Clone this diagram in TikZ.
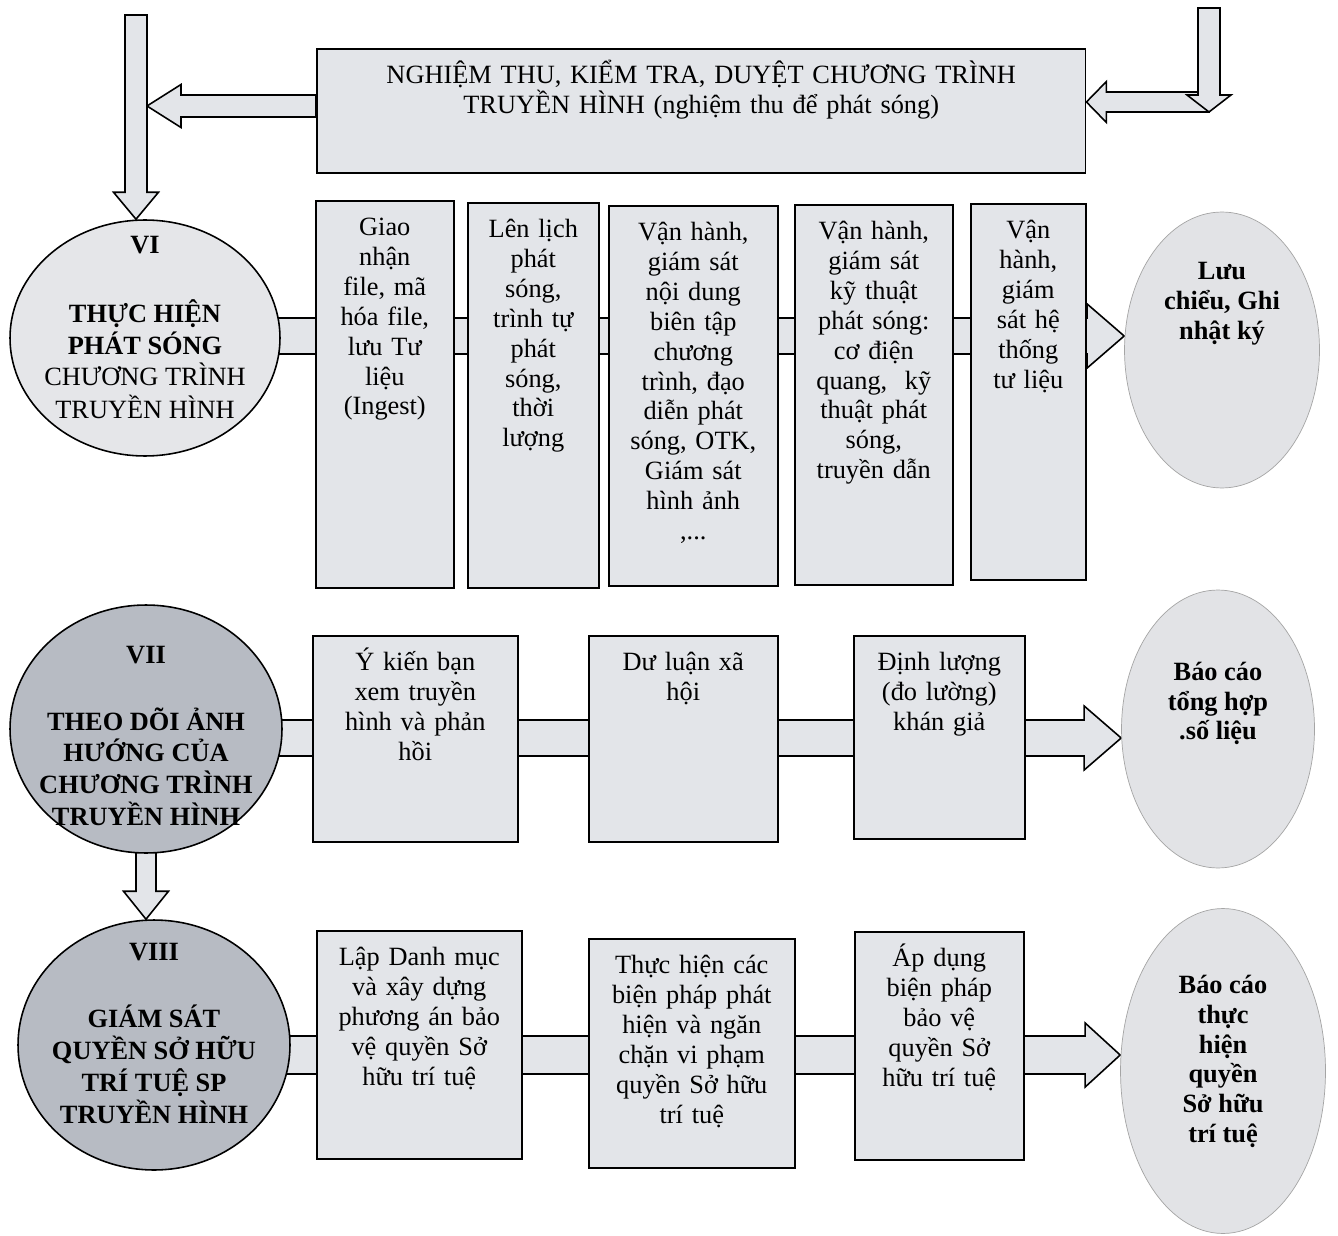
\documentclass[tikz,border=0pt]{standalone}
\usepackage{fontspec}
\setmainfont{Liberation Serif}
\usetikzlibrary{shapes.geometric, calc, backgrounds}

\definecolor{boxfill}{RGB}{227,229,233}
\definecolor{lightfill}{RGB}{229,230,233}
\definecolor{darkfill}{RGB}{183,187,195}
\definecolor{repfill}{RGB}{226,227,230}
\definecolor{repline}{RGB}{165,165,165}

\newcommand{\dfont}{\fontsize{15}{17}\selectfont}
% text block inside an ellipse, lifted by #1
\newcommand{\inell}[2]{\makebox[0pt]{\raisebox{#1}[0pt][0pt]{\begin{tabular}{@{}c@{}}#2\end{tabular}}}}

\begin{document}
\begin{tikzpicture}[x=0.02cm, y=-0.02cm, font=\dfont,
    proc/.style={draw, fill=boxfill, line width=0.9pt, anchor=north west,
      align=center, inner xsep=0.05cm, inner ysep=0pt, text height=0.70cm},
    stage/.style={ellipse, draw, line width=0.9pt, inner sep=0pt},
    report/.style={ellipse, draw=repline, fill=repfill, inner sep=0pt, font=\dfont\bfseries},
    band/.style={draw, fill=boxfill, line width=0.9pt},
    harrow/.style n args={3}{to path={
      ($(\tikztostart)+(0,-#2)$) -- ($(\tikztotarget)+({0-(#1)},-#2)$)
      -- ($(\tikztotarget)+({0-(#1)},-#3)$) -- (\tikztotarget)
      -- ($(\tikztotarget)+({0-(#1)},#3)$) -- ($(\tikztotarget)+({0-(#1)},#2)$)
      -- ($(\tikztostart)+(0,#2)$) -- cycle}},
    varrow/.style n args={3}{to path={
      ($(\tikztostart)+(-#2,0)$) -- ($(\tikztotarget)+(-#2,{0-(#1)})$)
      -- ($(\tikztotarget)+(-#3,{0-(#1)})$) -- (\tikztotarget)
      -- ($(\tikztotarget)+(#3,{0-(#1)})$) -- ($(\tikztotarget)+(#2,{0-(#1)})$)
      -- ($(\tikztostart)+(#2,0)$) -- cycle}}]

  \useasboundingbox (0,0) rectangle (1338,1236);

  % Top box
  \node[proc, text width=15.28cm, text depth=1.78cm] (check) at (316,48)
    {NGHIỆM THU, KIỂM TRA, DUYỆT CHƯƠNG TRÌNH\\TRUYỀN HÌNH (nghiệm thu để phát sóng)};

  % Row VI
  \node[stage, fill=lightfill, minimum width=5.4cm, minimum height=4.72cm] (stage6) at (145,338)
    {\inell{1.1pt}{\textbf{VI}\\[21.5pt]\textbf{THỰC HIỆN}\\\textbf{PHÁT SÓNG}\\CHƯƠNG TRÌNH\\TRUYỀN HÌNH}};
  \node[proc, text width=2.66cm, text depth=7.04cm] (ingest) at (315,200)
    {Giao\\nhận\\file, mã\\hóa file,\\lưu Tư\\liệu\\(Ingest)};
  \node[proc, text width=2.52cm, text depth=7.00cm] (sched) at (467,202)
    {Lên lịch\\phát\\sóng,\\trình tự\\phát\\sóng,\\thời\\lượng};
  \node[proc, text width=3.28cm, text depth=6.90cm] (content) at (608,205)
    {Vận hành,\\giám sát\\nội dung\\biên tập\\chương\\trình, đạo\\diễn phát\\sóng, OTK,\\Giám sát\\hình ảnh\\,...};
  \node[proc, text width=3.06cm, text depth=6.90cm] (tech) at (794,204)
    {Vận hành,\\giám sát\\kỹ thuật\\phát sóng:\\cơ điện\\quang,~ kỹ\\thuật phát\\sóng,\\truyền dẫn};
  \node[proc, text width=2.20cm, text depth=6.82cm] (archive) at (970,203)
    {Vận\\hành,\\giám\\sát hệ\\thống\\tư liệu};
  \node[report, minimum width=3.9cm, minimum height=5.52cm] (logbook) at (1222,350)
    {\inell{23pt}{Lưu\\chiểu, Ghi\\nhật ký}};

  % Row VII
  \node[stage, fill=darkfill, font=\dfont\bfseries, minimum width=5.44cm, minimum height=4.96cm] (stage7) at (146,729)
    {\inell{-9.1pt}{VII\\[20pt]THEO DÕI ẢNH\\HƯỚNG CỦA\\CHƯƠNG TRÌNH\\TRUYỀN HÌNH}};
  \node[proc, text width=4.00cm, text depth=3.42cm] (opinion) at (312,635)
    {Ý kiến bạn\\xem truyền\\hình và phản\\hồi};
  \node[proc, text width=3.68cm, text depth=3.42cm] (public) at (588,635)
    {Dư luận xã\\hội};
  \node[proc, text width=3.32cm, text depth=3.36cm] (rating) at (853,635)
    {Định lượng\\(đo lường)\\khán giả};
  \node[report, minimum width=3.86cm, minimum height=5.56cm] (summary) at (1218,729)
    {\inell{10.6pt}{Báo cáo\\tổng hợp\\.số liệu}};

  % Row VIII
  \node[stage, fill=darkfill, font=\dfont\bfseries, minimum width=5.44cm, minimum height=5.0cm] (stage8) at (154,1045)
    {\inell{1.4pt}{VIII\\[20pt]GIÁM SÁT\\QUYỀN SỞ HỮU\\TRÍ TUỆ SP\\TRUYỀN HÌNH}};
  \node[proc, text width=4.00cm, text depth=3.86cm] (catalog) at (316,930)
    {Lập Danh mục\\và xây dựng\\phương án bảo\\vệ quyền Sở\\hữu trí tuệ};
  \node[proc, text width=4.02cm, text depth=3.88cm] (prevent) at (588,938)
    {Thực hiện các\\biện pháp phát\\hiện và ngăn\\chặn vi phạm\\quyền Sở hữu\\trí tuệ};
  \node[proc, text width=3.28cm, text depth=3.86cm] (protect) at (854,931)
    {Áp dụng\\biện pháp\\bảo vệ\\quyền Sở\\hữu trí tuệ};
  \node[report, minimum width=4.1cm, minimum height=6.5cm] (ipreport) at (1223,1071)
    {\inell{1.5pt}{Báo cáo\\thực\\hiện\\quyền\\Sở hữu\\trí tuệ}};

  % Arrow ends
  \coordinate (feed1) at (136,15);
  \coordinate (join1) at (147,106);
  \coordinate (feed2) at (1209,8);
  \coordinate (join2) at (1209,112);
  \coordinate (tip1) at (logbook.west |- 0,336);
  \coordinate (tip2) at (summary.west |- 0,738);
  \coordinate (tip3) at (ipreport.west |- 0,1055);

  % Arrows
  \begin{scope}[on background layer]
    \fill[white] (0,0) rectangle (1338,1236);
    \draw[band, harrow={-34}{11}{21.5}] (check.west |- join1) to (join1);
    \draw[band, varrow={27}{11}{22.5}] (feed1) to (feed1 |- stage6.north);
    \draw[band, harrow={-20}{10}{20.5}] (join2 |- 0,102) to (check.east |- 0,102);
    \draw[band, varrow={17}{11}{22}] (feed2) to (join2);
    \draw[band, harrow={37}{18}{32}] (stage6.center |- tip1) to (tip1);
    \draw[band, harrow={37}{18}{32}] (stage7.center |- tip2) to (tip2);
    \draw[band, harrow={35}{19}{32}] (stage8.center |- tip3) to (tip3);
    \draw[band, varrow={28}{10}{22.5}] (stage7.center) to (stage7.center |- stage8.north);
  \end{scope}
\end{tikzpicture}
\end{document}
